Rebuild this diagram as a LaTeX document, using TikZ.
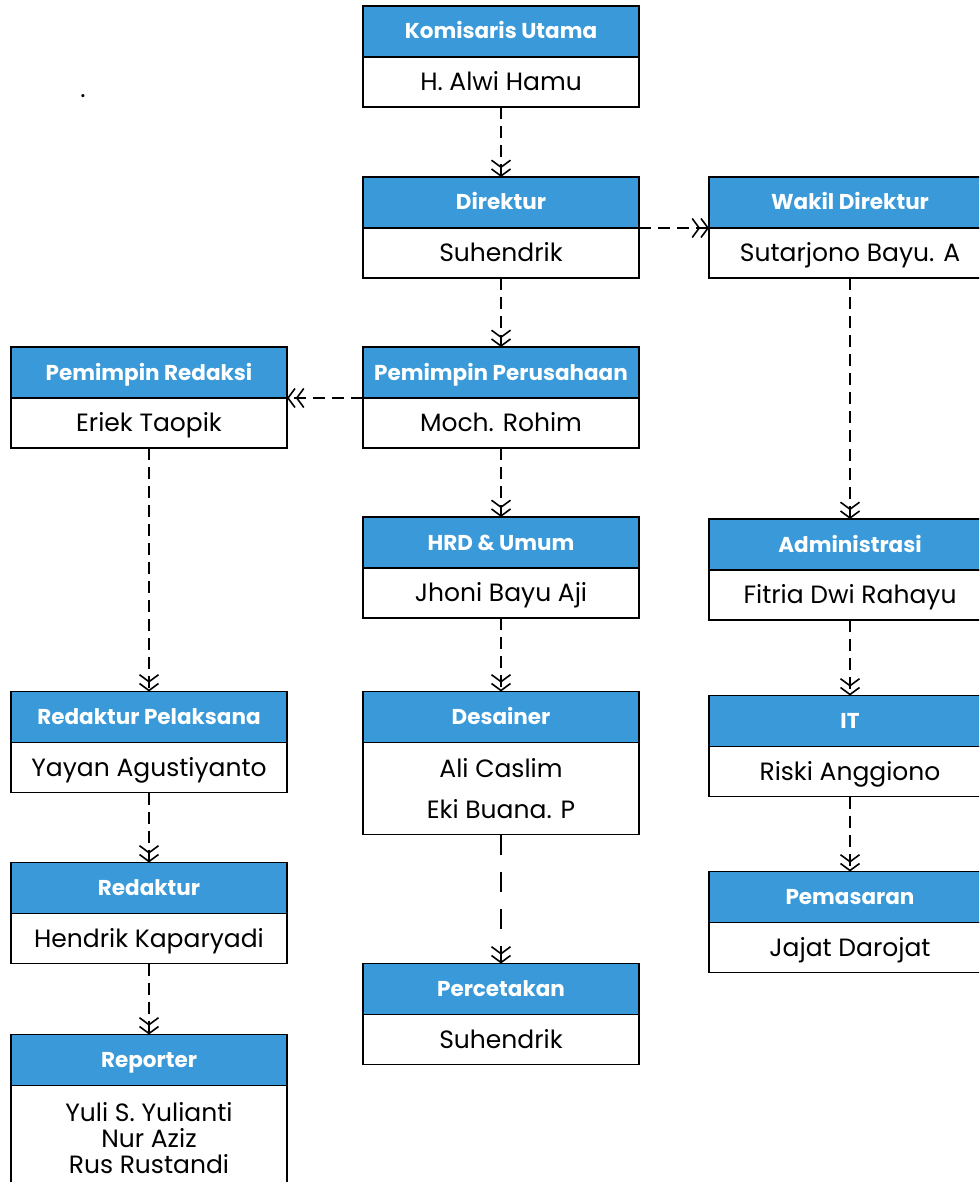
\documentclass[tikz,border=0pt]{standalone}
\usepackage{fontspec}
\setmainfont{Poppins}
\usetikzlibrary{arrows.meta,positioning}
\definecolor{headblue}{RGB}{58,154,217}

\begin{document}
\begin{tikzpicture}[x=1pt,y=-1pt,
  head/.style={draw, fill=headblue, text=white, line width=1.6pt, minimum width=276pt, minimum height=51pt, inner sep=0pt, outer sep=0pt, font=\fontsize{21.5}{25}\selectfont\bfseries, text height=15pt, text depth=0pt},
  body/.style={draw, fill=white, line width=1.6pt, minimum width=276pt, minimum height=50pt, inner sep=0pt, outer sep=0pt, font=\fontsize{25}{26}\selectfont, text height=17.5pt, text depth=0pt},
  bodylist/.style={body, align=center, text height={}, text depth={}},
  link/.style={line width=1.6pt, dash pattern=on 12pt off 7pt, -{Straight Barb[length=7pt,width=19pt]Straight Barb[length=7pt,width=19pt]}},
  longlink/.style={link, dash pattern=on 20pt off 17pt}]
\useasboundingbox (0,0) rectangle (979,1182);
\clip (0,0) rectangle (979,1182);

\node[inner sep=0pt, anchor=base, font=\fontsize{25}{26}\selectfont] (dot) at (83,98) {.};

% Middle column top to bottom
\node[head] (kom) at (501,31.5) {Komisaris Utama};
\node[body, below=0pt of kom] (komb) {H. Alwi Hamu};
\node[head] (dir) at (501,202.5) {Direktur};
\node[body, below=0pt of dir] (dirb) {Suhendrik};
\node[head] (pp) at (501,372.5) {Pemimpin Perusahaan};
\node[body, below=0pt of pp] (ppb) {Moch. Rohim};
\node[head] (hrd) at (501,542.5) {HRD \& Umum};
\node[body, below=0pt of hrd] (hrdb) {Jhoni Bayu Aji};
\node[head] (des) at (501,717) {Desainer};
\node[bodylist, below=0pt of des, minimum height=92pt, font=\fontsize{25}{41}\selectfont] (desb) {Ali Caslim\\Eki Buana. P};
\node[head] (per) at (501,989) {Percetakan};
\node[body, below=0pt of per] (perb) {Suhendrik};

% Left column top to bottom
\node[head] (pr) at (149,372.5) {Pemimpin Redaksi};
\node[body, below=0pt of pr] (prb) {Eriek Taopik};
\node[head] (rp) at (149,717) {Redaktur Pelaksana};
\node[body, below=0pt of rp] (rpb) {Yayan Agustiyanto};
\node[head] (red) at (149,888) {Redaktur};
\node[body, below=0pt of red] (redb) {Hendrik Kaparyadi};
\node[head] (rep) at (149,1060) {Reporter};
\node[bodylist, below=0pt of rep, minimum height=106pt] (repb) {Yuli S. Yulianti\\Nur Aziz\\Rus Rustandi};

% Right column top to bottom
\node[head, minimum width=282pt] (wak) at (850,202.5) {Wakil Direktur};
\node[body, minimum width=282pt, below=0pt of wak] (wakb) {Sutarjono Bayu. A};
\node[head, minimum width=282pt] (adm) at (850,544.5) {Administrasi};
\node[body, minimum width=282pt, below=0pt of adm] (admb) {Fitria Dwi Rahayu};
\node[head, minimum width=282pt] (it) at (850,721) {IT};
\node[body, minimum width=282pt, below=0pt of it] (itb) {Riski Anggiono};
\node[head, minimum width=282pt] (pem) at (850,897) {Pemasaran};
\node[body, minimum width=282pt, below=0pt of pem] (pemb) {Jajat Darojat};

% Dashed links
\draw[link] (komb.south) -- (dir.north);
\draw[link] (dirb.south) -- (pp.north);
\draw[link] (ppb.south) -- (hrd.north);
\draw[link] (hrdb.south) -- (des.north);
\draw[longlink] (desb.south) -- (per.north);
\draw[link] (dirb.north east) -- (wakb.north west);
\draw[link] (ppb.north west) -- (prb.north east);
\draw[link] (prb.south) -- (rp.north);
\draw[link] (rpb.south) -- (red.north);
\draw[link] (redb.south) -- (rep.north);
\draw[link] (wakb.south) -- (adm.north);
\draw[link] (admb.south) -- (it.north);
\draw[link] (itb.south) -- (pem.north);
\end{tikzpicture}
\end{document}
